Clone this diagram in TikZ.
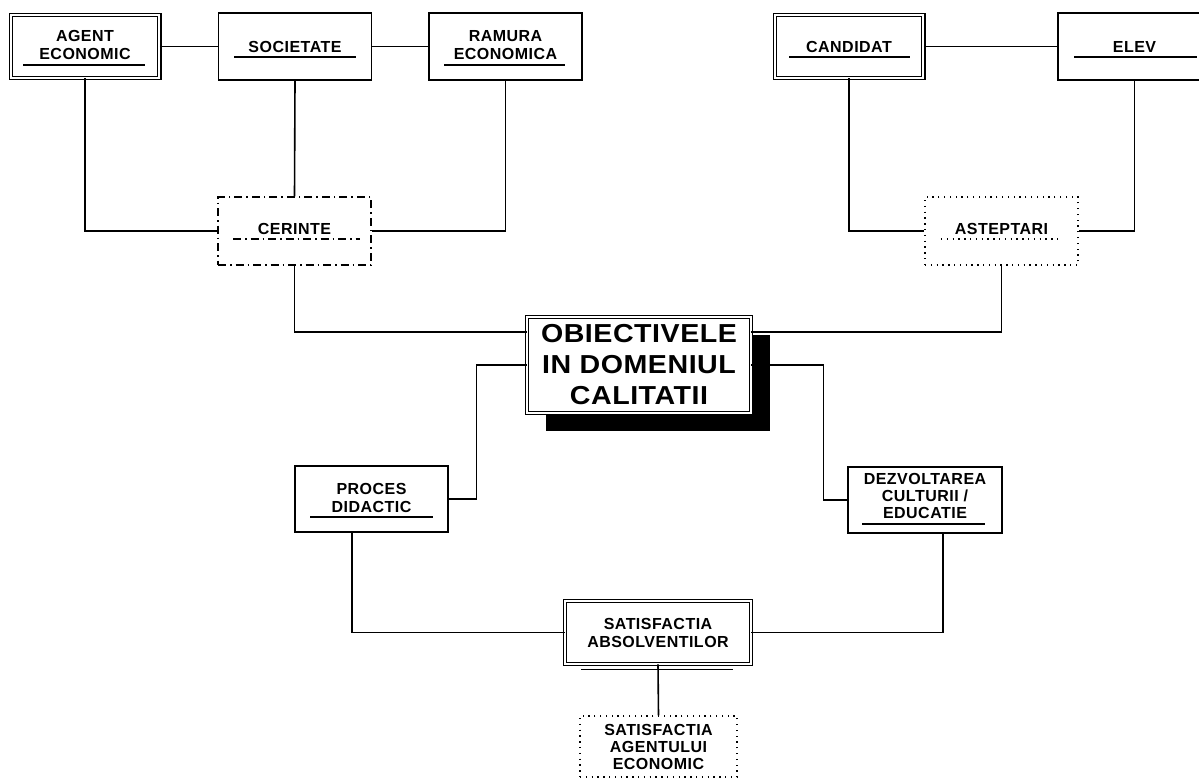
\documentclass[tikz,border=0pt]{standalone}
\usepackage{fontspec}
\setmainfont{Liberation Sans}
\newfontfamily\lblfont[LetterSpace=3]{Liberation Sans}
\newfontfamily\bigfont[FakeStretch=1.1,LetterSpace=2]{Liberation Sans}
\usetikzlibrary{calc,shadows}

\newcommand{\smalltxt}{\lblfont\fontsize{16}{18}\selectfont\bfseries}
\newcommand{\bigtxt}{\bigfont\fontsize{26}{31}\selectfont\bfseries}

\begin{document}
\begin{tikzpicture}[x=1pt,y=-1pt,
    box/.style={draw, fill=white, line width=1.3pt, minimum width=152pt,
      minimum height=66pt, inner sep=0pt, align=center, font=\smalltxt},
    dbox/.style={box, double, double distance=2.2pt, line width=1.1pt},
    link/.style={line width=1.6pt},
    ul/.style={line width=1.3pt},
    dashdot/.style={dash pattern=on 8pt off 4pt on 1.5pt off 4pt},
    dots/.style={dash pattern=on 1.3pt off 4.5pt}]

    \useasboundingbox (0,0) rectangle (1199,782);

    % first group: who asks
    \node[dbox, text depth=4pt, minimum width=148.6pt, minimum height=62.6pt] (agent) at (85,46.5) {AGENT\\ECONOMIC};
    \node[box, minimum width=153pt, minimum height=67pt] (societate) at (295,46.5) {SOCIETATE};
    \node[box, text depth=4pt, minimum width=153pt, minimum height=67pt] (ramura) at (505.5,46.5) {RAMURA\\ECONOMICA};
    \node[box, dashdot, text depth=4pt, minimum width=153pt, minimum height=68pt] (cerinte) at (294.5,231) {CERINTE};

    \draw[ul] ($(agent.center)+(-62,18.5)$) -- ++(122,0);
    \draw[ul] ($(societate.center)+(-61,10.5)$) -- ++(122,0);
    \draw[ul] ($(ramura.center)+(-61.5,18.5)$) -- ++(121,0);
    \draw[ul, dashdot] ($(cerinte.center)+(-61.5,8)$) -- ++(127,0);

    \draw[link] (agent) -- (societate);
    \draw[link] (societate) -- (ramura);
    \draw[link] (agent.south) |- (cerinte.west);
    \draw[link] (societate.south) -- (cerinte.north);
    \draw[link] (ramura.south) |- (cerinte.east);

    % second group: who expects
    \node[dbox, minimum width=148.6pt, minimum height=62.6pt] (candidat) at (849,46.5) {CANDIDAT};
    \node[box, minimum width=153pt, minimum height=67pt] (elev) at (1134.5,46.5) {ELEV};
    \node[box, dots, text depth=4pt, minimum width=153pt, minimum height=68pt] (asteptari) at (1001.5,231) {ASTEPTARI};

    \draw[ul] ($(candidat.center)+(-60,10.5)$) -- ++(121,0);
    \draw[ul] ($(elev.center)+(-60.5,10.5)$) -- ++(123,0);
    \draw[ul, dots] ($(asteptari.center)+(-60.5,8)$) -- ++(120,0);

    \draw[link] (candidat) -- (elev);
    \draw[link] (candidat.south) |- (asteptari.west);
    \draw[link] (elev.south) |- (asteptari.east);

    % central box with its shadow
    \node[dbox, font=\bigtxt, minimum width=223.6pt, minimum height=95.6pt,
      general shadow={fill=black, shadow xshift=19pt, shadow yshift=-18pt}]
      (obiective) at (639,365) {OBIECTIVELE\\IN DOMENIUL\\CALITATII};

    \draw[link] (cerinte.south) |- ([yshift=33pt]obiective.west);
    \draw[link] (asteptari.south) |- ([yshift=33pt]obiective.east);

    % lower part
    \node[box, text depth=2pt, minimum width=153pt, minimum height=66pt] (proces) at (371.5,499) {PROCES\\DIDACTIC};
    \node[box, text depth=8pt, minimum width=154pt, minimum height=66pt] (dezvoltare) at (925,500)
      {DEZVOLTAREA\\[-1pt]CULTURII /\\[-1pt]EDUCATIE};
    \node[dbox, minimum width=185.6pt, minimum height=62.6pt] (satabs) at (658,632.5) {SATISFACTIA\\ABSOLVENTILOR};
    \node[box, dots, minimum width=157pt, minimum height=61pt] (satagent) at (658.5,746.5) {SATISFACTIA\\[-1pt]AGENTULUI\\[-1pt]ECONOMIC};

    \draw[ul] ($(proces.center)+(-61.5,18)$) -- ++(123,0);
    \draw[ul] ($(dezvoltare.center)+(-63,24)$) -- ++(123,0);
    \draw[double, double distance=1pt, line width=0.9pt] ($(satabs.center)+(-77,37.5)$) -- ++(152,0);

    \draw[link] (obiective.west) -- ++(-50,0) |- (proces.east);
    \draw[link] (obiective.east) -- ++(72,0) |- (dezvoltare.west);
    \draw[link] ([xshift=-19.5pt]proces.south) |- (satabs.west);
    \draw[link] ([xshift=18pt]dezvoltare.south) |- (satabs.east);
    \draw[link] (satabs.south) -- (satagent.north);
\end{tikzpicture}
\end{document}
